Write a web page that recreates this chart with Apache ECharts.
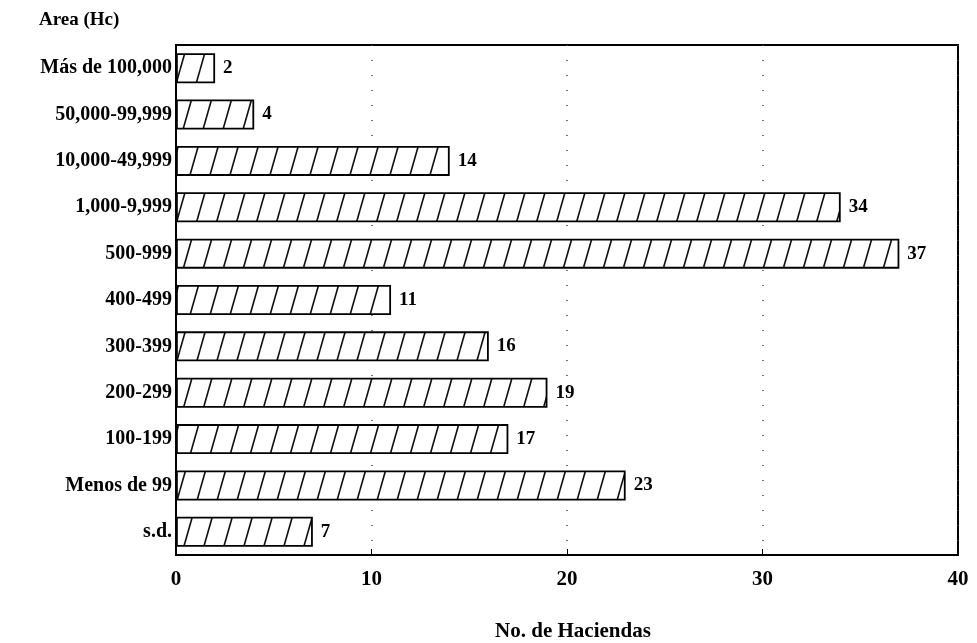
<!DOCTYPE html>
<html>
<head>
<meta charset="utf-8">
<script src="https://cdn.jsdelivr.net/npm/echarts@6/dist/echarts.min.js"></script>
<style>
html,body{margin:0;padding:0;background:#fff;}
#chart{width:977px;height:643px;}
</style>
</head>
<body>
<div id="chart"></div>
<script>
const categories = ["Más de 100,000","50,000-99,999","10,000-49,999","1,000-9,999","500-999","400-499","300-399","200-299","100-199","Menos de 99","s.d."];
const values = [2,4,14,34,37,11,16,19,17,23,7];
const xTicks = [0,10,20,30,40];

// hatch pattern
const tile = document.createElement('canvas');
tile.width = 20; tile.height = 70;
const ctx = tile.getContext('2d');
ctx.fillStyle = '#fff';
ctx.fillRect(0,0,20,70);
ctx.strokeStyle = '#111';
ctx.lineWidth = 1.6;
for (const x0 of [-20,0,20]) {
  ctx.beginPath();
  ctx.moveTo(x0, 70);
  ctx.lineTo(x0 + 20, 0);
  ctx.stroke();
}

const font = '"Liberation Serif", "DejaVu Serif", serif';
const chart = echarts.init(document.getElementById('chart'));
chart.setOption({
  backgroundColor: '#fff',
  animation: false,
  grid: {left: 176, right: 19, top: 45, bottom: 88, show: true, borderColor: '#000', borderWidth: 2, backgroundColor: 'transparent', outerBoundsMode: 'none', containLabel: false},
  title: {text: 'Area (Hc)', left: 34, top: 6, textStyle: {fontFamily: font, fontWeight: 'bold', fontSize: 19, color: '#000'}},
  xAxis: {
    type: 'value', min: 0, max: 40, interval: 10,
    name: 'No. de Haciendas', nameLocation: 'middle', nameGap: 66,
    nameTextStyle: {fontFamily: font, fontWeight: 'bold', fontSize: 21, color: '#000', padding: [0, 0, 0, 12]},
    axisLine: {show: true, lineStyle: {color: '#000', width: 2}},
    axisTick: {show: true, inside: true, length: 6, lineStyle: {color: '#000'}},
    axisLabel: {fontFamily: font, fontWeight: 'bold', fontSize: 21, color: '#000', margin: 14,
      formatter: v => xTicks.includes(v) ? String(v) : ''},
    splitLine: {show: true, lineStyle: {color: '#444', type: [1, 14], width: 1.5}}
  },
  yAxis: {
    type: 'category', data: categories, inverse: true,
    axisLine: {show: true, lineStyle: {color: '#000', width: 2}},
    axisTick: {show: true, inside: true, alignWithLabel: true, length: 6, lineStyle: {color: '#000'}},
    axisLabel: {fontFamily: font, fontWeight: 'bold', fontSize: 20, color: '#000', margin: 4},
    splitLine: {show: false}
  },
  series: [{
    type: 'bar', data: values, barWidth: 30,
    itemStyle: {color: {image: tile, repeat: 'repeat'}, borderColor: '#000', borderWidth: 1.8},
    label: {show: true, position: 'right', distance: 8, fontFamily: font, fontWeight: 'bold', fontSize: 19, color: '#000'}
  }]
});
</script>
</body>
</html>
